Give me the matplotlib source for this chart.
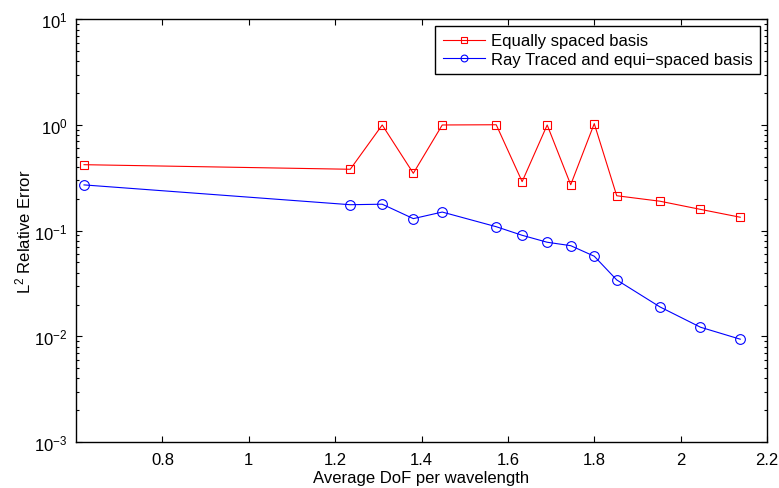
import matplotlib
matplotlib.use("Agg")
import matplotlib.pyplot as plt
from matplotlib.ticker import LogLocator, NullFormatter, FixedLocator

plt.rcParams['font.family'] = ['Liberation Sans', 'DejaVu Sans']
plt.rcParams['mathtext.default'] = 'regular'
plt.rcParams['font.size'] = 12

# Average degrees of freedom per wavelength
dof = [0.6185, 1.235, 1.309, 1.381, 1.448, 1.573, 1.633, 1.691,
       1.7455, 1.800, 1.852, 1.952, 2.046, 2.138]

# L2 relative error, equally spaced basis
err_equal = [0.421, 0.381, 1.0, 0.349, 1.0, 1.005, 0.291, 1.0,
             0.272, 1.03, 0.214, 0.190, 0.159, 0.134]

# L2 relative error, ray traced + equi-spaced basis
err_ray = [0.271, 0.176, 0.178, 0.130, 0.150, 0.109, 0.0904, 0.0777,
           0.0721, 0.0573, 0.0342, 0.0190, 0.0122, 0.0094]

xticks = [0.8, 1.0, 1.2, 1.4, 1.6, 1.8, 2.0, 2.2]
xticklabels = ['0.8', '1', '1.2', '1.4', '1.6', '1.8', '2', '2.2']

fig = plt.figure(figsize=(7.79, 4.89), dpi=100)
ax = fig.add_axes([0.0976, 0.094, 0.9870 - 0.0976 - 0.0024, 0.9585 - 0.094])

ax.plot(dof, err_equal, color='red', lw=0.8, marker='s', ms=6,
        mfc='none', mec='red', mew=0.8, label='Equally spaced basis')
ax.plot(dof, err_ray, color='blue', lw=0.8, marker='o', ms=7,
        mfc='none', mec='blue', mew=0.8,
        label='Ray Traced and equi\u2212spaced basis')

ax.set_yscale('log')
ax.set_xlim(0.6, 2.2)
ax.set_ylim(1e-3, 1e1)
ax.xaxis.set_major_locator(FixedLocator(xticks))
ax.set_xticklabels(xticklabels)
ax.yaxis.set_major_locator(LogLocator(base=10, numticks=10))
ax.yaxis.set_minor_locator(LogLocator(base=10, subs=range(2, 10), numticks=10))
ax.yaxis.set_minor_formatter(NullFormatter())

ax.tick_params(which='both', direction='in', top=True, right=True, width=0.8)
ax.tick_params(which='major', length=4.5, labelsize=12, pad=6)
ax.tick_params(axis='x', which='major', pad=7)
ax.tick_params(which='minor', length=2.5)
for s in ax.spines.values():
    s.set_linewidth(1.0)

ax.set_xlabel('Average DoF per wavelength', fontsize=12, labelpad=2.5)
ax.set_ylabel('L$^2$ Relative Error', fontsize=12, labelpad=0.5)

leg = ax.legend(loc='upper right', fontsize=12, frameon=True, fancybox=False,
                edgecolor='black', framealpha=1, borderaxespad=0.4,
                handlelength=2.55, handletextpad=0.35, labelspacing=0.2,
                borderpad=0.45, markerscale=0.7)
leg.get_frame().set_linewidth(1.0)

fig.savefig('out.png', dpi=100)
